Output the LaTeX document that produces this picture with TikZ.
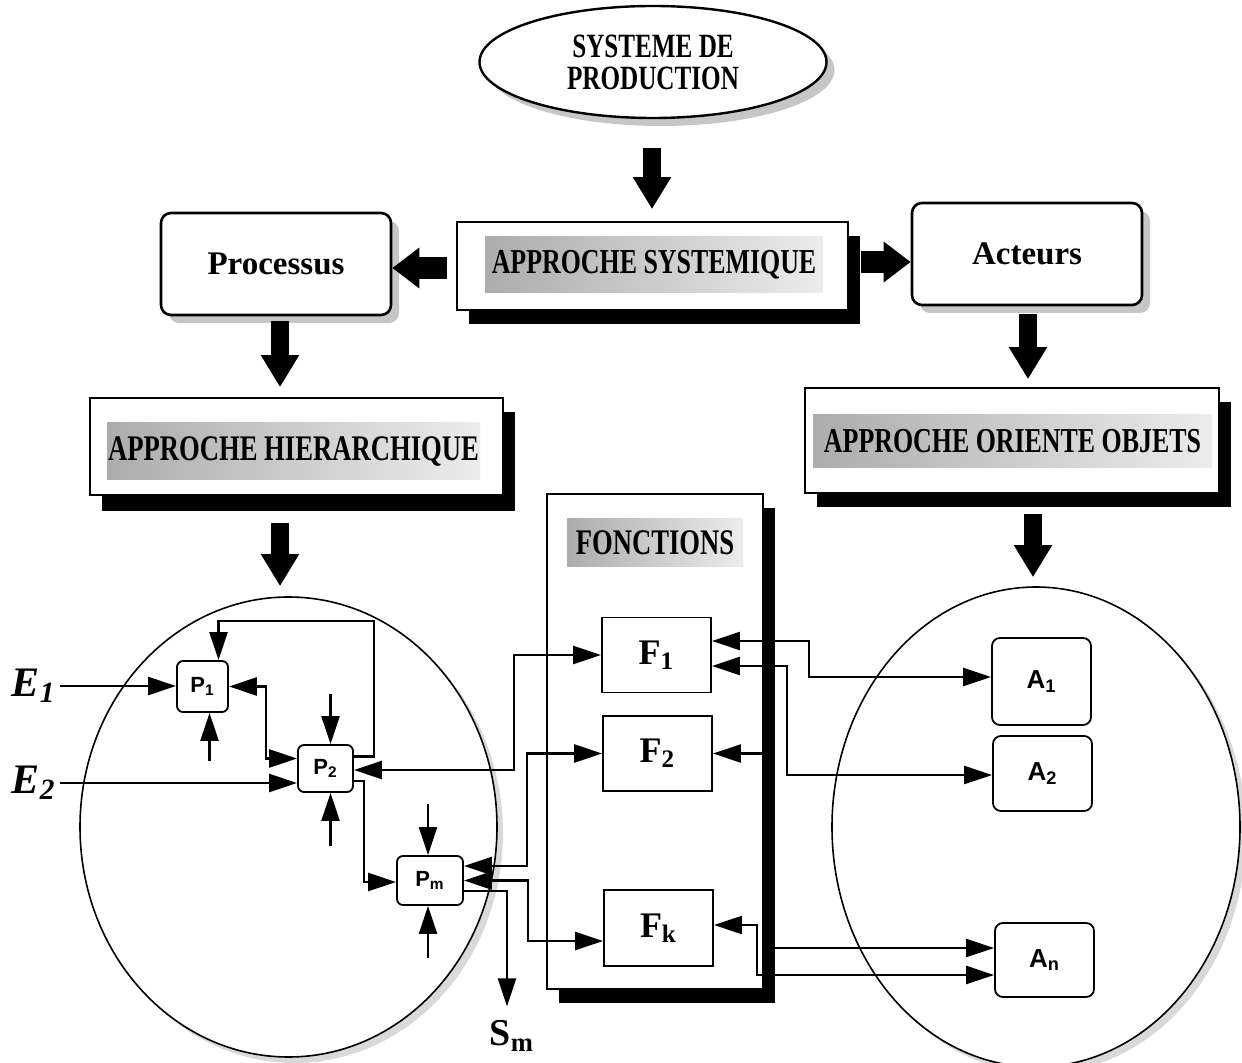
\documentclass[tikz,border=0pt]{standalone}
\usepackage{fontspec}
\setmainfont{Liberation Serif}
\setsansfont{Liberation Sans}
\newfontfamily\serre[FakeStretch=0.74]{Liberation Serif}
\usepackage{tikz}
\usetikzlibrary{arrows.meta,shapes.geometric,shadows}
\tikzset{>=Latex}

\begin{document}
\begin{tikzpicture}[x=0.5pt,y=-0.5pt,
approche/.style={rectangle, draw=black, line width=0.8pt, fill=white, drop shadow={shadow xshift=6pt, shadow yshift=-7pt, fill=black, opacity=1}},
titre/.style={rectangle, inner sep=0pt, left color=gray!65, right color=gray!15, font=\serre\bfseries\fontsize{17.5}{20}\selectfont},
arrondi/.style={rectangle, rounded corners=5pt, draw=black, line width=1.3pt, fill=white, minimum width=115pt, minimum height=51pt, drop shadow={shadow xshift=4pt, shadow yshift=-4pt, fill=gray!45, opacity=1}, font=\bfseries\fontsize{16.5}{20}\selectfont},
fonction/.style={rectangle, draw=black, line width=0.9pt, fill=white, minimum width=54.5pt, minimum height=37.5pt, font=\bfseries\fontsize{18}{20}\selectfont},
processeur/.style={rectangle, rounded corners=3pt, draw=black, line width=0.9pt, fill=white, inner sep=0pt, font=\sffamily\bfseries\fontsize{11}{12}\selectfont},
acteur/.style={rectangle, rounded corners=4pt, draw=black, line width=0.9pt, fill=white, minimum width=49.5pt, font=\sffamily\bfseries\fontsize{13}{14}\selectfont},
cercle/.style={ellipse, draw=black, line width=0.8pt, fill=white, inner sep=0pt, drop shadow={shadow xshift=3pt, shadow yshift=-3pt, fill=gray!30, opacity=1}},
grosse/.style={line width=9pt, -{Triangle[length=16pt,width=18pt]}},
grossehoriz/.style={line width=11pt, -{Triangle[length=13.5pt,width=19.5pt]}},
fl/.style={line width=1.1pt, -{Triangle[length=14pt,width=9pt]}},
dbl/.style={line width=1.1pt, {Triangle[length=14pt,width=9pt]}-{Triangle[length=14pt,width=9pt]}},
entree/.style={font=\bfseries\itshape\fontsize{21}{22}\selectfont, inner sep=2pt},
]
\useasboundingbox (0,0) rectangle (1242,1063);

%Nodes
\node[ellipse, draw=black, line width=1.2pt, fill=white, minimum width=173.5pt, minimum height=56pt, align=center, drop shadow={shadow xshift=4pt, shadow yshift=-4pt, fill=gray!45, opacity=1}, font=\serre\bfseries\fontsize{17}{16}\selectfont] (sys) at (653,62) {SYSTEME DE\\PRODUCTION};

\node[approche, minimum width=195.5pt, minimum height=44pt] (appsys) at (652.5,266) {};
\node[titre, minimum width=169pt, minimum height=28pt] (tsys) at (654,265) {APPROCHE SYSTEMIQUE};

\node[arrondi] (proc) at (276,264) {Processus};
\node[arrondi] (act) at (1027,254) {Acteurs};

\node[approche, minimum width=206.5pt, minimum height=48.5pt, drop shadow={shadow xshift=6pt, shadow yshift=-8pt, fill=black, opacity=1}] (apphier) at (296.5,446.5) {};
\node[titre, minimum width=186.5pt, minimum height=28.5pt, font=\serre\bfseries\fontsize{18}{20}\selectfont] (thier) at (293.5,451.5) {APPROCHE HIERARCHIQUE};

\node[approche, minimum width=207pt, minimum height=52.5pt] (appobj) at (1012,440.5) {};
\node[titre, minimum width=199.5pt, minimum height=26.5pt] (tobj) at (1012.5,441.5) {APPROCHE ORIENTE OBJETS};

\node[cercle, minimum width=208.5pt, minimum height=230pt] (cercleP) at (288.5,827) {};
\node[cercle, minimum width=204pt, minimum height=240pt] (cercleA) at (1036,827) {};

\node[approche, minimum width=108pt, minimum height=247.5pt] (fonc) at (655,741.5) {};
\node[titre, minimum width=88pt, minimum height=24pt, font=\serre\bfseries\fontsize{18}{20}\selectfont] (tfonc) at (655,543) {FONCTIONS};

\node[fonction] (f1) at (656.5,655) {F\textsubscript{1}};
\node[fonction] (f2) at (657.5,753.5) {F\textsubscript{2}};
\node[fonction, minimum height=38pt] (fk) at (658.5,928) {F\textsubscript{k}};

\node[processeur, minimum width=25.5pt, minimum height=25.5pt] (p1) at (202.5,686.5) {P\textsubscript{1}};
\node[processeur, minimum width=27.5pt, minimum height=23.5pt] (p2) at (325.5,768.5) {P\textsubscript{2}};
\node[processeur, minimum width=33pt, minimum height=24.5pt] (pm) at (430,880.5) {P\textsubscript{m}};

\node[acteur, minimum height=43.5pt] (a1) at (1041.5,681.5) {A\textsubscript{1}};
\node[acteur, minimum height=37.5pt] (a2) at (1042.5,773.5) {A\textsubscript{2}};
\node[acteur, minimum height=37pt] (an) at (1044.5,960) {A\textsubscript{n}};

\node[entree, anchor=east] (e1) at (60,686) {E\textsubscript{1}};
\node[entree, anchor=east] (e2) at (60,783) {E\textsubscript{2}};
\node[font=\bfseries\fontsize{19}{20}\selectfont, inner sep=1pt] (sm) at (512,1036) {S\textsubscript{m}};

%Big arrows
\coordinate (g0) at ([shift={(-1,29)}]sys.south);
\draw[grosse, shorten >=6pt] (g0) -- (g0 |- appsys.north);
\coordinate (g6) at ([shift={(-9,2)}]appsys.west);
\draw[grossehoriz] (g6) -- (g6 -| proc.east);
\coordinate (g1) at ([shift={(12,-4)}]appsys.east);
\draw[grossehoriz] (g1) -- (g1 -| act.west);
\coordinate (g2) at ([shift={(4,5)}]proc.south);
\draw[grosse, shorten >=5pt] (g2) -- (g2 |- apphier.north);
\coordinate (g3) at ([shift={(1,8)}]act.south);
\draw[grosse, shorten >=4pt] (g3) -- (g3 |- appobj.north);
\coordinate (g4) at ([shift={(-16.5,27)}]apphier.south);
\draw[grosse, shorten >=5pt] (g4) -- (g4 |- cercleP.north);
\coordinate (g5) at ([shift={(21,20)}]appobj.south);
\draw[grosse, shorten >=4.5pt] (g5) -- (g5 |- cercleA.north);

%Processes
\draw[fl] (e1.east) -- (e1.east -| p1.west);
\draw[fl] (e2.east) -- (e2.east -| p2.west);
\draw[fl] ([shift={(0,-12)}]p2.east) -| (374,621) -| ([shift={(16,0)}]p1.north);
\draw[dbl] (p1.east) -- ++(37,0) |- ([shift={(0,-10)}]p2.west);
\draw[fl] ([shift={(7,48)}]p1.south) -- ([shift={(7,0)}]p1.south);
\draw[fl] ([shift={(5,-50)}]p2.north) -- ([shift={(5,0)}]p2.north);
\draw[fl] ([shift={(5,53)}]p2.south) -- ([shift={(5,0)}]p2.south);
\draw[fl] ([shift={(-2,-51)}]pm.north) -- ([shift={(-2,0)}]pm.north);
\draw[fl] ([shift={(-2,52)}]pm.south) -- ([shift={(-2,0)}]pm.south);
\draw[fl] ([shift={(0,12.5)}]p2.east) -- ++(10,0) |- ([shift={(0,1.5)}]pm.west);
\draw[fl] ([shift={(0,10.5)}]pm.east) -| ([shift={(-5,-12)}]sm.north);

%Functions
\draw[dbl] (f1.west) -- ++(-87,0) |- ([shift={(0,1.5)}]p2.east);
\draw[dbl] (f2.west) -- ++(-75,0) |- ([shift={(0,-14.5)}]pm.east);
\draw[dbl] ([shift={(0,13)}]fk.west) -- ++(-75,0) |- (pm.east);

%Actors
\draw[dbl] ([shift={(0,-14)}]f1.east) -- ++(97,0) |- ([shift={(0,-4.5)}]a1.west);
\draw[dbl] ([shift={(0,11)}]f1.east) -- ++(75,0) |- ([shift={(0,1.5)}]a2.west);
\draw[fl] (f2.east -| fonc.east) -- (f2.east);
\draw[dbl] ([shift={(0,-3)}]fk.east) -- ++(43,0) |- ([shift={(0,15)}]an.west);
\coordinate (anhaut) at ([shift={(0,-12)}]an.west);
\draw[fl] (anhaut -| fonc.east) -- (anhaut);
\end{tikzpicture}
\end{document}
